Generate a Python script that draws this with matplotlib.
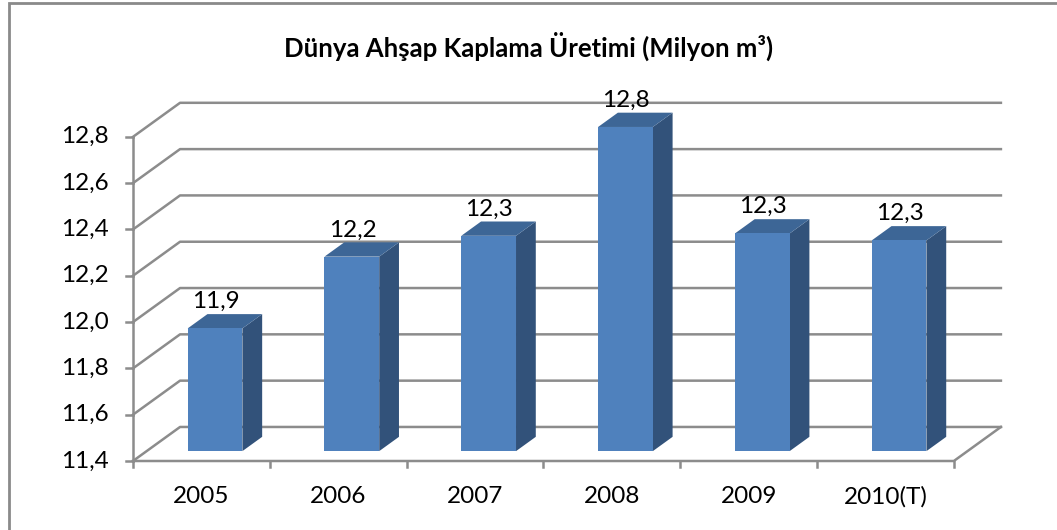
import matplotlib
matplotlib.use("Agg")
import matplotlib.pyplot as plt
from matplotlib.patches import Polygon, Rectangle

years = ["2005", "2006", "2007", "2008", "2009", "2010(T)"]
values = [11.93, 12.24, 12.33, 12.80, 12.34, 12.31]
labels = ["11,9", "12,2", "12,3", "12,8", "12,3", "12,3"]
yticks = [11.4, 11.6, 11.8, 12.0, 12.2, 12.4, 12.6, 12.8]
ytick_labels = ["11,4", "11,6", "11,8", "12,0", "12,2", "12,4", "12,6", "12,8"]

title = "Dünya Ahşap Kaplama Üretimi (Milyon m³)"

# oblique projection: depth d in [0, 1] shifts right and up
DX = 0.344   # category units per full depth
DY = 0.147   # value units per full depth
ymin = 11.4
ymax = 12.8


def proj(x, v, d):
    return (x + DX * d, v + DY * d)


plt.rcParams['font.family'] = ['Lato', 'DejaVu Sans']

fig = plt.figure(figsize=(10.57, 5.30), dpi=100)
ax = fig.add_axes([0, 0, 1, 1])
ax.set_xlim(-0.972, 6.754)
ax.set_ylim(11.102, 13.391)
ax.axis('off')

grid_c = '#8c8c8c'
n = len(years)
fs = 17.5

# outer chart border
ax.add_patch(Rectangle((-0.906, 10.9), 8.0, 2.478, fill=False,
                       edgecolor='#8a8a8a', lw=2.0, zorder=1))

# gridlines: left wall diagonal + back wall horizontal
for v in yticks:
    x0, y0 = proj(0, v, 0)
    x1, y1 = proj(0, v, 1)
    x2, y2 = proj(n, v, 1)
    ax.plot([x0, x1, x2], [y0, y1, y2], color=grid_c, lw=1.8, zorder=2)

# floor front and right edges
fx = [proj(0, ymin, 0)[0], proj(n, ymin, 0)[0], proj(n, ymin, 1)[0]]
fy = [proj(0, ymin, 0)[1], proj(n, ymin, 0)[1], proj(n, ymin, 1)[1]]
ax.plot(fx, fy, color=grid_c, lw=1.8, zorder=2)

# vertical axis at front
ax.plot([0, 0], [ymin, ymax], color=grid_c, lw=1.8, zorder=2)
for v, t in zip(yticks, ytick_labels):
    ax.plot([-0.05, 0], [v, v], color=grid_c, lw=1.8, zorder=2)
    ax.text(-0.18, v, t, ha='right', va='center', fontsize=fs, color='black')

# category ticks
for i in range(n + 1):
    ax.plot([i, i], [ymin, ymin - 0.027], color=grid_c, lw=1.8, zorder=2)
for i, y in enumerate(years):
    ax.text(i + 0.5, ymin - 0.155, y, ha='center', va='center',
            fontsize=fs, color='black')

# bars
bw = 0.4
d0, d1 = 0.29, 0.71
front_c = '#4f81bd'
top_c = '#3d6696'
side_c = '#32527a'
for i, (v, lab) in enumerate(zip(values, labels)):
    xl = i + 0.5 - bw / 2
    xr = xl + bw
    front = [proj(xl, ymin, d0), proj(xr, ymin, d0), proj(xr, v, d0), proj(xl, v, d0)]
    top = [proj(xl, v, d0), proj(xr, v, d0), proj(xr, v, d1), proj(xl, v, d1)]
    side = [proj(xr, ymin, d0), proj(xr, ymin, d1), proj(xr, v, d1), proj(xr, v, d0)]
    ax.add_patch(Polygon(side, closed=True, facecolor=side_c, edgecolor='none', zorder=3))
    ax.add_patch(Polygon(top, closed=True, facecolor=top_c, edgecolor='none', zorder=3))
    ax.add_patch(Polygon(front, closed=True, facecolor=front_c, edgecolor='none', zorder=3))
    lx = proj((xl + xr) / 2, v, d0)[0] + 0.005
    ly = proj((xl + xr) / 2, v, d1)[1]
    ax.text(lx, ly + 0.008, lab, ha='center', va='bottom',
            fontsize=fs, color='black', zorder=4)

ax.text(0.5, 0.912, title, transform=ax.transAxes, ha='center', va='center',
        fontsize=18.5, fontweight='bold', color='black')

fig.savefig("out.png", dpi=100)
